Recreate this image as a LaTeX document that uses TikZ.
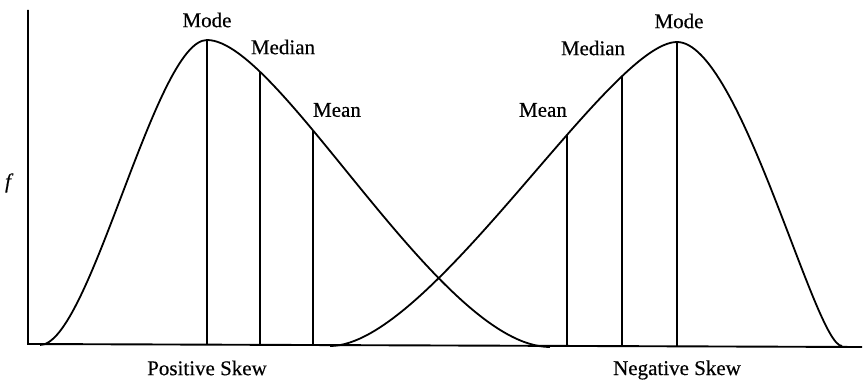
\documentclass[tikz,border=0pt]{standalone}
\usepackage{fontspec}
\setmainfont{Liberation Serif}
\newfontfamily\lblfont[FakeBold=0.4]{Liberation Serif}
\usetikzlibrary{intersections}
\begin{document}
\begin{tikzpicture}[x=1pt,y=-1pt,
  curve/.style={line width=1.8pt, line join=round},
  axisline/.style={line width=1.9pt},
  marker/.style={line width=1.8pt},
  lbl/.style={font=\lblfont\fontsize{21}{24}\selectfont, inner sep=0pt}]
\useasboundingbox (0,0) rectangle (864,382);
% axes
\coordinate (ytop) at (28,10);
\coordinate (origin) at (28,344);
\coordinate (xend) at (862,347);
\draw[axisline] (ytop) -- (origin) -- (xend);
% positive skew curve
\draw[curve, name path=pos] (40,345) .. controls (90,345) and (155,40) .. (207,40)
   .. controls (280,40) and (440,347) .. (550,347);
% negative skew curve
\draw[curve, name path=neg] (330,346) .. controls (430,346) and (610,42) .. (677,42)
   .. controls (740,42) and (815,346) .. (842,346);
% marker lines
\path[name path=v2] (260,0) -- (260,400);
\path[name path=v3] (313,0) -- (313,400);
\path[name path=v4] (567,0) -- (567,400);
\path[name path=v5] (622,0) -- (622,400);
\path[name intersections={of=pos and v2, by=lme}];
\path[name intersections={of=pos and v3, by=lmn}];
\path[name intersections={of=neg and v4, by=rmn}];
\path[name intersections={of=neg and v5, by=rme}];
\coordinate (lmo) at (207,40);
\coordinate (rmo) at (677,42);
\coordinate (lmob) at (207,345);
\coordinate (lmeb) at (260,345);
\coordinate (lmnb) at (313,345);
\coordinate (rmnb) at (567,346);
\coordinate (rmeb) at (622,346);
\coordinate (rmob) at (677,346);
\draw[marker] (lmo) -- (lmob);
\draw[marker] (lme) -- (lmeb);
\draw[marker] (lmn) -- (lmnb);
\draw[marker] (rmn) -- (rmnb);
\draw[marker] (rme) -- (rmeb);
\draw[marker] (rmo) -- (rmob);
% labels
\node[lbl] (tlmo) at (207,20) {Mode};
\node[lbl] (tlme) at (283,47) {Median};
\node[lbl] (tlmn) at (337,110) {Mean};
\node[lbl] (trmo) at (679,21) {Mode};
\node[lbl] (trme) at (593,48) {Median};
\node[lbl] (trmn) at (543,110) {Mean};
\node[lbl] (tf) at (8,183) {\itshape f};
\node[lbl] (tpos) at (207,368) {Positive Skew};
\node[lbl] (tneg) at (677,370) {Negative Skew};
\end{tikzpicture}
\end{document}
